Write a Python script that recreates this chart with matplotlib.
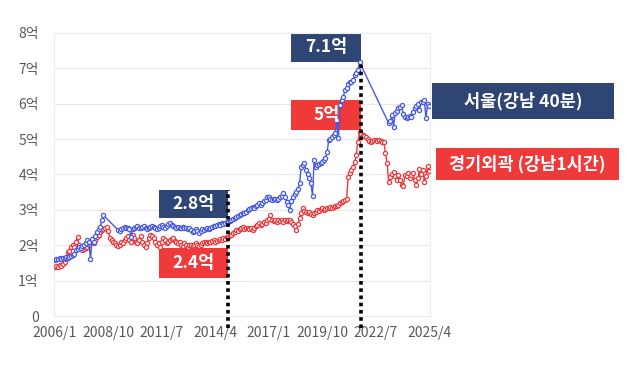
import numpy as np
import matplotlib
matplotlib.use("Agg")
import matplotlib.pyplot as plt
from matplotlib.patches import Rectangle

plt.rcParams['font.family'] = ['Noto Sans CJK KR', 'DejaVu Sans']

# monthly series, 2006/1 .. 2025/4 (unit: 억)
months = [f"{2006 + k // 12}/{k % 12 + 1}" for k in range(232)]

seoul = [
    1.58, 1.60, 1.62, 1.63, 1.62, 1.64, 1.65, 1.66, 1.65, 1.68, 1.70, 1.72,
    1.75, 1.86, 1.90, 1.96, 1.92, 1.98, 2.00, 2.05, 2.15, 2.10, 1.60, 2.19,
    2.10, 2.25, 2.38, 2.45, 2.52, 2.70, 2.85, None, None, None, None, None,
    None, None, None, 2.43, 2.40, 2.45, 2.50, 2.52, 2.48, 2.50, 2.45, 2.24,
    2.45, 2.50, 2.52, 2.55, 2.50, 2.48, 2.52, 2.55, 2.50, 2.45, 2.50, 2.52,
    2.55, 2.52, 2.48, 2.45, 2.50, 2.55, 2.58, 2.52, 2.50, 2.55, 2.60, 2.63,
    2.58, 2.55, 2.52, 2.50, 2.52, 2.48, 2.50, 2.52, 2.50, 2.48, 2.45, 2.48,
    2.42, 2.38, 2.40, 2.45, 2.40, 2.36, 2.40, 2.45, 2.42, 2.45, 2.48, 2.45,
    2.50, 2.52, 2.55, 2.55, 2.58, 2.60, 2.58, 2.62, 2.60, 2.63, 2.65, 2.66,
    2.68, 2.72, 2.75, 2.78, 2.80, 2.82, 2.85, 2.88, 2.90, 2.92, 2.95, 3.00,
    3.02, 3.05, 3.09, 3.05, 3.10, 3.15, 3.19, 3.15, 3.20, 3.25, 3.28, 3.35,
    3.35, 3.30, 3.28, 3.32, 3.30, 3.28, 3.30, 3.35, 3.40, 3.48, 3.35, 3.23,
    3.15, 3.00, 3.25, 3.37, 3.45, 3.51, 3.60, 3.75, 4.22, 4.28, 4.32, 4.12,
    4.00, 3.90, 3.75, 3.40, 4.40, 4.20, 4.27, 4.30, 4.32, 4.36, 4.40, 4.46,
    4.63, 4.97, 5.00, 5.06, 5.11, 5.17, 5.54, 5.02, 5.96, 6.10, 6.20, 6.38,
    6.44, 6.55, 6.62, 6.62, 6.67, 6.80, 6.86, 6.95, 7.18, None, None, None,
    None, None, None, None, None, None, None, None, None, None, None, None,
    None, None, 5.45, 5.50, 5.68, 5.35, 5.73, 5.80, 5.87, 5.90, 5.96, 5.70,
    5.63, 5.60, 5.63, 5.65, 5.63, 5.77, 5.87, 5.95, 6.00, 5.82, 6.05, 6.05,
    6.10, 5.59, 6.00, 5.95,
]

gyeonggi = [
    1.38, 1.40, 1.39, 1.44, 1.42, 1.48, 1.53, 1.60, 1.82, 1.85, 1.96, 2.00,
    1.95, 2.10, 2.24, 2.00, 1.95, 1.86, 1.90, 1.92, 1.95, 2.00, 2.10, 2.08,
    2.06, 2.15, 2.24, 2.30, 2.38, 2.42, 2.45, 2.49, 2.52, 2.40, 2.20, 2.15,
    2.10, 2.05, 2.00, 1.98, 2.02, 2.10, 2.05, 2.15, 2.20, 2.25, 2.15, 2.10,
    2.30, 2.20, 2.10, 2.05, 2.15, 2.25, 2.10, 2.00, 1.95, 2.05, 2.20, 2.29,
    2.25, 2.20, 2.10, 2.00, 2.05, 1.95, 2.10, 2.20, 2.15, 2.05, 2.10, 2.15,
    2.18, 2.20, 2.12, 2.10, 2.05, 2.08, 2.00, 1.98, 2.05, 2.00, 1.95, 2.00,
    2.02, 1.98, 2.00, 2.05, 2.00, 1.98, 2.02, 2.05, 2.08, 2.10, 2.05, 2.08,
    2.10, 2.12, 2.15, 2.10, 2.12, 2.15, 2.18, 2.15, 2.20, 2.18, 2.22, 2.24,
    2.28, 2.30, 2.35, 2.38, 2.43, 2.40, 2.45, 2.48, 2.52, 2.45, 2.48, 2.50,
    2.45, 2.48, 2.43, 2.50, 2.55, 2.58, 2.62, 2.58, 2.60, 2.65, 2.62, 2.70,
    2.75, 2.85, 2.72, 2.68, 2.70, 2.66, 2.70, 2.68, 2.72, 2.65, 2.70, 2.68,
    2.70, 2.71, 2.65, 2.60, 2.55, 2.43, 2.60, 2.76, 2.90, 3.05, 2.98, 2.95,
    2.90, 2.95, 2.88, 2.85, 2.90, 2.95, 3.00, 2.98, 3.02, 3.05, 3.00, 3.02,
    3.05, 3.05, 3.08, 3.05, 3.09, 3.10, 3.12, 3.15, 3.19, 3.22, 3.25, 3.28,
    3.30, 3.93, 4.05, 4.12, 4.22, 4.35, 4.55, 4.92, 5.20, 5.15, 5.11, 5.08,
    5.06, 5.00, 4.95, 4.92, 4.95, 4.97, 4.97, 4.95, 4.97, 4.95, 4.93, 4.92,
    4.60, 4.32, 3.80, 3.93, 4.00, 4.08, 3.95, 3.84, 3.98, 3.85, 3.70, 3.68,
    3.98, 3.95, 4.04, 3.90, 3.98, 4.04, 3.84, 3.70, 3.90, 4.15, 4.00, 4.12,
    3.80, 3.95, 4.25, 4.10,
]

tick_step = 33
y_labels = ["0", "1억", "2억", "3억", "4억", "5억", "6억", "7억", "8억"]

# callouts: (month index of dotted line, text)
mark_a = 107
mark_b = 189
navy = "#2F4573"
red_box = "#F03A3A"
blue_line = "#4659E3"
red_line = "#EA3A3E"

fig = plt.figure(figsize=(6.4, 3.81), dpi=100)
ax = fig.add_axes([0.0844, 0.1706, 0.5875, 0.7428])

x = np.arange(len(months))
s = np.array(seoul, dtype=float)
g = np.array(gyeonggi, dtype=float)
ok = ~np.isnan(s)

ax.plot(x, g, color=red_line, lw=1.0, marker="o", ms=3.0, mfc="white",
        mew=0.9, zorder=3)
ax.plot(x[ok], s[ok], color=blue_line, lw=1.0, marker="o", ms=3.0, mfc="white",
        mew=0.9, zorder=3)

ax.set_xlim(-0.5, len(months) - 0.5)
ax.set_ylim(0, 8)
ax.set_yticks(range(9))
ax.set_yticklabels(y_labels)
ticks = list(range(0, len(months), tick_step))
ax.set_xticks(ticks)
ax.set_xticklabels([months[t] for t in ticks])
ax.tick_params(length=0, labelsize=10, labelcolor="#595959")
ax.tick_params(axis="y", pad=11)
ax.tick_params(axis="x", pad=7)
ax.yaxis.grid(True, color="#E8E8E8", lw=0.8)
ax.set_axisbelow(True)
for sp in ax.spines.values():
    sp.set_color("#ECECEC")
    sp.set_linewidth(0.8)

# dotted guide lines
ax.plot([mark_a, mark_a], [-0.34, 3.56], color="black", lw=2.6,
        ls=(0, (1, 1)), clip_on=False, zorder=5)
ax.plot([mark_b, mark_b], [-0.34, 7.18], color="black", lw=2.6,
        ls=(0, (1, 1)), clip_on=False, zorder=5)

# value boxes
bw = 43
boxes = [
    (mark_a, 2.77, 0.79, navy, "2.8억"),
    (mark_a, 1.07, 0.85, red_box, "2.4억"),
    (mark_b, 7.18, 0.82, navy, "7.1억"),
    (mark_b, 5.25, 0.85, red_box, "5억"),
]
for xr, y0, h, c, t in boxes:
    ax.add_patch(Rectangle((xr - bw, y0), bw, h, facecolor=c, edgecolor="none",
                           zorder=2, clip_on=False))
    ax.text(xr - bw / 2, y0 + h / 2, t, color="white", fontsize=12.5,
            fontweight="bold", ha="center", va="center", zorder=6)

# series labels
legend = [
    (0.6745, 0.6869, 0.2848, 0.0961, navy, "서울(강남 40분)"),
    (0.6813, 0.5276, 0.2859, 0.0840, red_box, "경기외곽 (강남1시간)"),
]
for lx, ly, lw_, lh, c, t in legend:
    fig.add_artist(Rectangle((lx, ly), lw_, lh, transform=fig.transFigure,
                             facecolor=c, edgecolor="none"))
    fig.text(lx + lw_ / 2, ly + lh / 2, t, color="white", fontsize=12.6,
             fontweight="bold", ha="center", va="center")

fig.savefig("out.png", dpi=100, facecolor="white")
